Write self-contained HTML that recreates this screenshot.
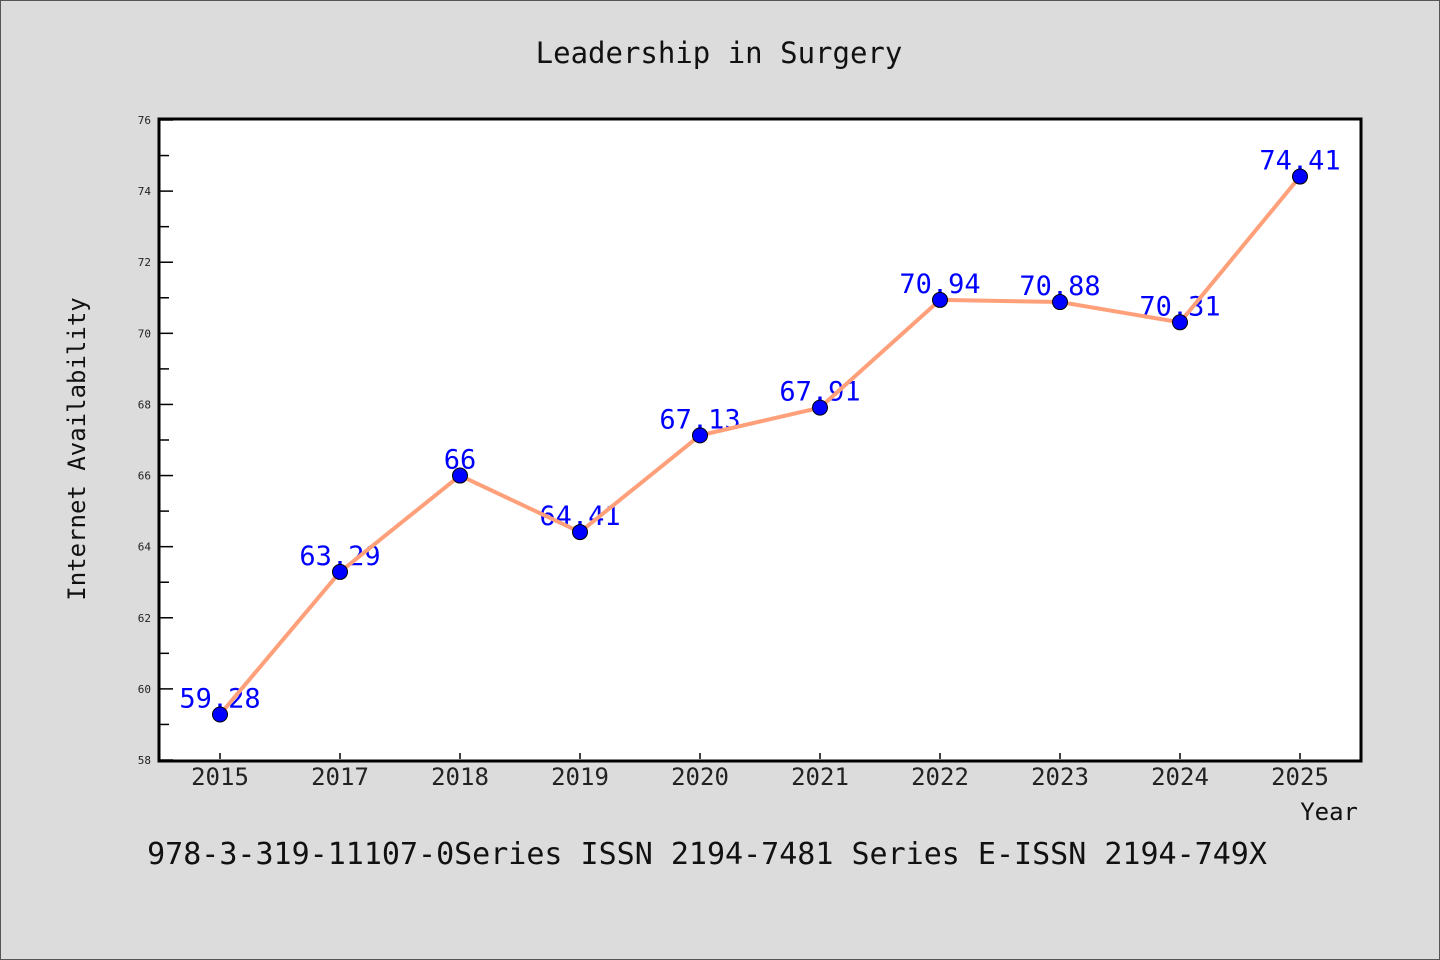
<!DOCTYPE html>
<html><head><meta charset="utf-8"><style>
body{margin:0;background:#dcdcdc;}
svg{display:block;font-family:"WenQuanYi Zen Hei Mono","DejaVu Sans Mono","Liberation Mono",monospace;}
</style></head><body>
<svg id="c" width="1440" height="960" viewBox="0 0 1440 960">
<rect x="0.5" y="0.5" width="1439" height="959" fill="#dcdcdc" stroke="#555"/>
<text x="719" y="63" text-anchor="middle" font-size="29" fill="#111">Leadership in Surgery</text>
<rect x="159" y="119" width="1202" height="642" fill="#fff" stroke="#000" stroke-width="3"/>
<text transform="translate(85,449) rotate(-90)" text-anchor="middle" font-size="24" fill="#111">Internet Availability</text>
<text x="1358" y="820" text-anchor="end" font-size="24" fill="#111">Year</text>
<text x="707" y="864" text-anchor="middle" font-size="30" fill="#111">978-3-319-11107-0Series ISSN 2194-7481 Series E-ISSN 2194-749X</text>
<g id="axes"></g><g id="labels"></g><g id="marks"></g>
</svg>
<script>
const categories=["2015","2017","2018","2019","2020","2021","2022","2023","2024","2025"];
const values=[59.28,63.29,66,64.41,67.13,67.91,70.94,70.88,70.31,74.41];
const valueLabels=["59.28","63.29","66","64.41","67.13","67.91","70.94","70.88","70.31","74.41"];
const yTicks=[58,60,62,64,66,68,70,72,74,76];
const NS="http://www.w3.org/2000/svg";
const yMin=58,yMax=76,yTop=120,yBot=760;
const y=v=>yBot-(v-yMin)/(yMax-yMin)*(yBot-yTop);
const x=i=>220+i*120;
function mk(t,a,p){const e=document.createElementNS(NS,t);for(const k in a)e.setAttribute(k,a[k]);p.appendChild(e);return e;}
const axes=document.getElementById('axes'),labels=document.getElementById('labels'),marks=document.getElementById('marks');
yTicks.forEach((t,i)=>{
 const l=mk('line',{x1:160,x2:173,y1:y(t),y2:y(t),stroke:'#000','stroke-width':1.5},axes);
 
 
 const tx=mk('text',{x:151,y:y(t)+4,'text-anchor':'end','font-size':11,fill:'#222'},axes);
 tx.textContent=t;
 
 
 if(i<yTicks.length-1){
  const m=(t+yTicks[i+1])/2;
  const ml=mk('line',{x1:160,x2:169,y1:y(m),y2:y(m),stroke:'#000','stroke-width':1.5},axes);
  
  
 }
});
categories.forEach((c,i)=>{
 const l=mk('line',{x1:x(i),x2:x(i),y1:759,y2:753,stroke:'#000','stroke-width':1.5},axes);
 
 
 const tx=mk('text',{x:x(i),y:785,'text-anchor':'middle','font-size':24,fill:'#222'},axes);
 tx.textContent=c;
 
 
 const vl=mk('text',{x:x(i),y:y(values[i])-7,'text-anchor':'middle','font-size':27,fill:'#0000ff'},labels);
 vl.textContent=valueLabels[i];
 
 
});
const line=mk('polyline',{points:values.map((v,i)=>x(i)+','+y(v)).join(' '),fill:'none',stroke:'#ffa07a','stroke-width':4},marks);


values.forEach((v,i)=>{
 const p=mk('circle',{cx:x(i),cy:y(v),r:7.5,fill:'#0000ff',stroke:'#000','stroke-width':1},marks);
 
 
});
</script>
</body></html>
